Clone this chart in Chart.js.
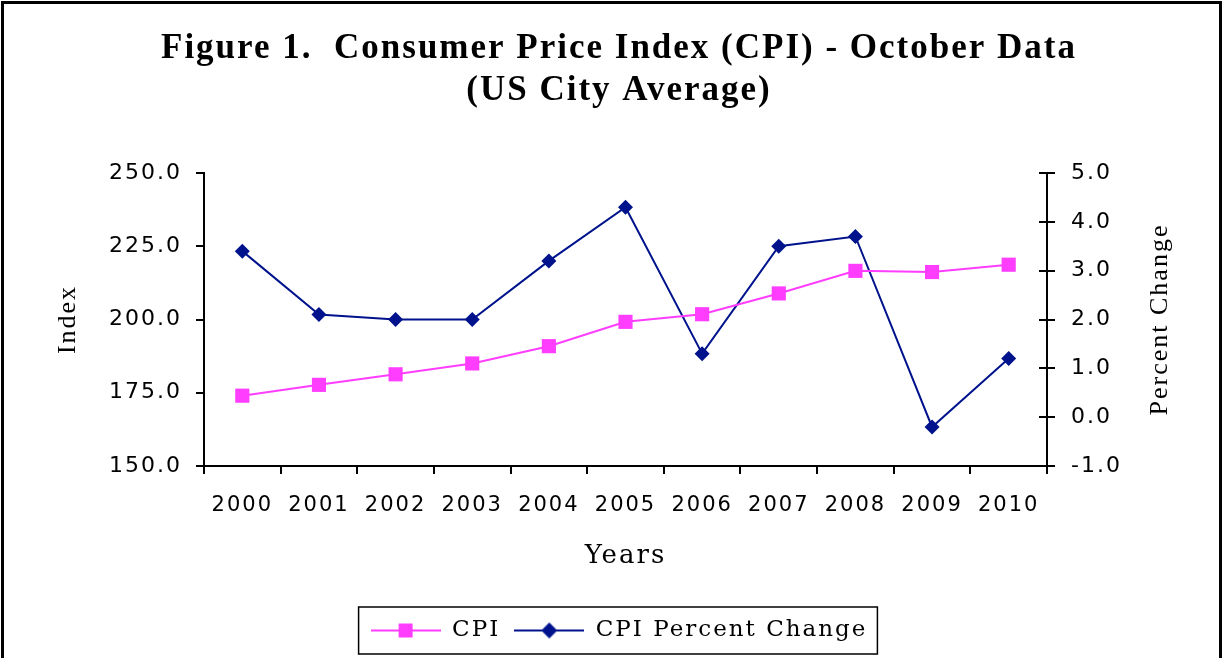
<!DOCTYPE html>
<html>
<head>
<meta charset="utf-8">
<script src="https://cdn.jsdelivr.net/npm/chart.js@4.4.1/dist/chart.umd.min.js"></script>
<style>
  html, body { margin: 0; padding: 0; background: #fff; }
  #wrap { width: 1223px; height: 658px; }
</style>
</head>
<body>
<div id="wrap"><canvas id="cpi"></canvas></div>
<script>
// October CPI, US city average
const YEARS = ['2000', '2001', '2002', '2003', '2004', '2005', '2006', '2007', '2008', '2009', '2010'];
const CPI = [174.0, 177.7, 181.3, 185.0, 190.9, 199.2, 201.8, 208.9, 216.6, 216.2, 218.7];
const CPI_PCT = [3.4, 2.1, 2.0, 2.0, 3.2, 4.3, 1.3, 3.5, 3.7, -0.2, 1.2];

const PINK = '#ff3dff';
const NAVY = '#00138c';
const SERIF = "'DejaVu Serif', serif";
const NARROW = "'Liberation Serif', serif";
const SANS = "'DejaVu Sans', sans-serif";
const SPACING = '2px';

// legend swatch: short line with the marker on it
function swatch(color, shape) {
  const c = document.createElement('canvas');
  c.width = 70; c.height = 18;
  const g = c.getContext('2d');
  g.strokeStyle = color; g.lineWidth = 2;
  g.beginPath(); g.moveTo(0, 9); g.lineTo(70, 9); g.stroke();
  g.fillStyle = color;
  g.beginPath();
  if (shape === 'rect') {
    g.rect(28, 2, 14, 14);
  } else {
    g.moveTo(35, 1); g.lineTo(43, 9); g.lineTo(35, 17); g.lineTo(27, 9); g.closePath();
  }
  g.fill();
  return c;
}
const SWATCHES = [swatch(PINK, 'rect'), swatch(NAVY, 'diamond')];

const PAD = { left: 35, right: 20, top: 22, bottom: 6 };

// wide-set lettering like the original; the canvas state is reset on resize so set it often
const spacingPlugin = {
  id: 'spacing',
  beforeUpdate(chart) { chart.ctx.letterSpacing = SPACING; },
  beforeLayout(chart) { chart.ctx.letterSpacing = SPACING; },
  beforeDraw(chart) { chart.ctx.letterSpacing = SPACING; },
};

const framePlugin = {
  id: 'frame',
  afterDraw(chart) {
    const ctx = chart.ctx;
    ctx.save();
    ctx.strokeStyle = '#000';
    ctx.lineWidth = 3;
    ctx.beginPath();
    ctx.moveTo(2.5, 700); ctx.lineTo(2.5, 2.5); ctx.lineTo(1220.5, 2.5); ctx.lineTo(1220.5, 700);
    ctx.stroke();

    // box round the legend
    const boxes = chart.legend.legendHitBoxes;
    if (boxes && boxes.length) {
      const l = Math.min(...boxes.map(b => b.left)) - 12;
      const r = Math.max(...boxes.map(b => b.left + b.width)) + 10;
      const t = Math.min(...boxes.map(b => b.top)) - 12;
      const btm = Math.max(...boxes.map(b => b.top + b.height)) + 12;
      ctx.lineWidth = 1.5;
      ctx.strokeRect(l, t, r - l, btm - t);
    }

    // right axis ticks cross the axis line
    const y1 = chart.scales.y1;
    ctx.lineWidth = 2;
    ctx.beginPath();
    y1.ticks.forEach(tk => {
      const py = Math.round(y1.getPixelForValue(tk.value));
      ctx.moveTo(y1.left - 8, py); ctx.lineTo(y1.left, py);
    });
    ctx.stroke();

    // right axis title reads bottom to top, as on the left
    const area = chart.chartArea;
    ctx.translate(y1.left + 113, (area.top + area.bottom) / 2);
    ctx.rotate(-Math.PI / 2);
    ctx.fillStyle = '#000';
    ctx.font = '26px ' + NARROW;
    ctx.textAlign = 'center';
    ctx.textBaseline = 'middle';
    ctx.fillText('Percent Change', 0, 0);
    ctx.restore();
  }
};

new Chart(document.getElementById('cpi'), {
  type: 'line',
  data: {
    labels: YEARS,
    datasets: [
      {
        label: 'CPI',
        data: CPI,
        yAxisID: 'y',
        borderColor: PINK,
        backgroundColor: PINK,
        borderWidth: 2,
        pointStyle: 'rect',
        pointRadius: 10,
        pointBorderWidth: 0,
        tension: 0,
      },
      {
        label: 'CPI Percent Change',
        data: CPI_PCT,
        yAxisID: 'y1',
        borderColor: NAVY,
        backgroundColor: NAVY,
        borderWidth: 2,
        pointStyle: 'rectRot',
        pointRadius: 7.5,
        pointBorderWidth: 0,
        tension: 0,
      },
    ],
  },
  options: {
    responsive: true,
    maintainAspectRatio: false,
    animation: false,
    layout: { padding: PAD },
    plugins: {
      title: {
        display: true,
        text: ['Figure 1.  Consumer Price Index (CPI) - October Data', '(US City Average)'],
        color: '#000',
        font: { family: NARROW, size: 35, weight: 'bold', lineHeight: 1.2 },
        padding: { top: 6, bottom: 61 },
      },
      legend: {
        position: 'bottom',
        labels: {
          color: '#000',
          font: { family: SERIF, size: 23 },
          usePointStyle: true,
          pointStyleWidth: 70,
          padding: 14,
          generateLabels(chart) {
            const items = Chart.defaults.plugins.legend.labels.generateLabels(chart);
            items.forEach((it, i) => { it.pointStyle = SWATCHES[i]; });
            return items;
          },
        },
      },
      tooltip: { enabled: false },
    },
    scales: {
      x: {
        offset: true,
        grid: { display: true, drawOnChartArea: false, offset: true, color: '#000', lineWidth: 2, tickLength: 8 },
        border: { color: '#000', width: 2 },
        ticks: { color: '#000', font: { family: SANS, size: 21 }, padding: 19, maxRotation: 0 },
        title: { display: true, text: 'Years', color: '#000', font: { family: SERIF, size: 26 }, padding: { top: 14, bottom: 33 } },
        afterFit(scale) { scale.height = 139; },
      },
      y: {
        position: 'left',
        min: 150, max: 250,
        grid: { drawOnChartArea: false, color: '#000', lineWidth: 2, tickLength: 8 },
        border: { color: '#000', width: 2 },
        ticks: { stepSize: 25, color: '#000', font: { family: SANS, size: 22 }, padding: 14, callback: v => v.toFixed(1) },
        title: { display: true, text: 'Index', color: '#000', font: { family: NARROW, size: 26 }, padding: { top: 18, bottom: 4 } },
        afterFit(scale) { scale.width = 204 - PAD.left; },
      },
      y1: {
        position: 'right',
        min: -1, max: 5,
        grid: { drawOnChartArea: false, color: '#000', lineWidth: 2, tickLength: 8 },
        border: { color: '#000', width: 2 },
        ticks: { stepSize: 1, color: '#000', font: { family: SANS, size: 22 }, padding: 16, callback: v => v.toFixed(1) },
        title: { display: false },
        afterFit(scale) { scale.width = 1223 - PAD.right - 1047; },
      },
    },
  },
  plugins: [spacingPlugin, framePlugin],
});
</script>
</body>
</html>
